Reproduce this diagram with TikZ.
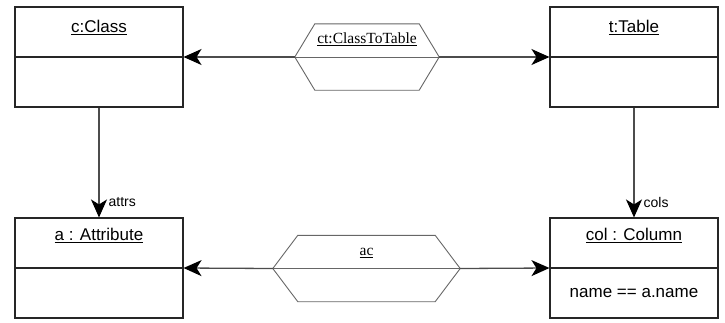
\documentclass[tikz,border=0pt]{standalone}
\usepackage{fontspec}
\setmainfont{Liberation Sans}
\newfontfamily\serifrm{Liberation Serif}
\usetikzlibrary{positioning, calc, arrows.meta}

\begin{document}
\begin{tikzpicture}[x=1pt, y=-1pt,
    obj/.style={draw=black!85, line width=1.1pt, minimum width=168pt, minimum height=100pt, inner sep=0pt},
    hexbox/.style={minimum width=#1, minimum height=66pt, inner sep=0pt},
    hexline/.style={draw=black!60, line width=0.9pt},
    ttl/.style={font=\fontsize{17}{20}\selectfont, inner sep=0pt, anchor=base},
    hexttl/.style={font=\serifrm\fontsize{15.5}{18}\selectfont, inner sep=0pt, anchor=base},
    lbl/.style={font=\fontsize{14}{16}\selectfont, inner sep=0pt},
    link/.style={draw=black!70, line width=1.3pt, -{Stealth[length=18pt, width=16pt, inset=5pt, color=black]}}
  ]
    \useasboundingbox (0,0) rectangle (725,322);
    % Obiecte
    \node[obj] (c) at (99,57) {};
    \node[obj] (t) at (634,57) {};
    \node[obj] (a) at (99,268) {};
    \node[obj] (col) at (634,268) {};
    \foreach \n in {c,t,a,col} {
      \draw[draw=black!85, line width=1.1pt] (\n.west) -- (\n.east);
    }
    % Titluri
    \node[ttl] (cT) at ([yshift=-26pt]c.north) {\underline{c:Class}};
    \node[ttl] (tT) at ([yshift=-26pt]t.north) {\underline{t:Table}};
    \node[ttl] (aT) at ([yshift=-23pt]a.north) {\underline{a : Attribute}};
    \node[ttl] (colT) at ([yshift=-23pt]col.north) {\underline{col : Column}};
    \node[ttl, anchor=center] (colA) at ($(col.center)!0.5!(col.south)$) {name == a.name};
    % Corespondente (hexagoane)
    \node[hexbox=144pt] (ct) at (367,57) {};
    \node[hexbox=187pt] (ac) at (366.5,268.5) {};
    \foreach \n/\d in {ct/20, ac/25} {
      \draw[hexline] ($(\n.north west)+(\d,0)$) -- ($(\n.north east)+(-\d,0)$) -- (\n.east)
        -- ($(\n.south east)+(-\d,0)$) -- ($(\n.south west)+(\d,0)$) -- (\n.west) -- cycle;
      \draw[hexline] (\n.west) -- (\n.east);
    }
    \node[hexttl] (ctT) at ([yshift=-20pt]ct.north) {\underline{ct:ClassToTable}};
    \node[hexttl] (acT) at ([yshift=-20pt]ac.north) {\underline{ac}};
    % Legaturi
    \draw[link] (ct.west) -- (c.east);
    \draw[link] (ct.east) -- (t.west);
    \draw[link] (ac.west) -- (a.east);
    \draw[link] (ac.east) -- (col.west);
    \draw[link] (c.south) -- node[pos=0.86, right=9pt, lbl] (attrs) {attrs} (a.north);
    \draw[link] (t.south) -- node[pos=0.86, right=9pt, lbl] (cols) {cols} (col.north);
  \end{tikzpicture}
\end{document}
